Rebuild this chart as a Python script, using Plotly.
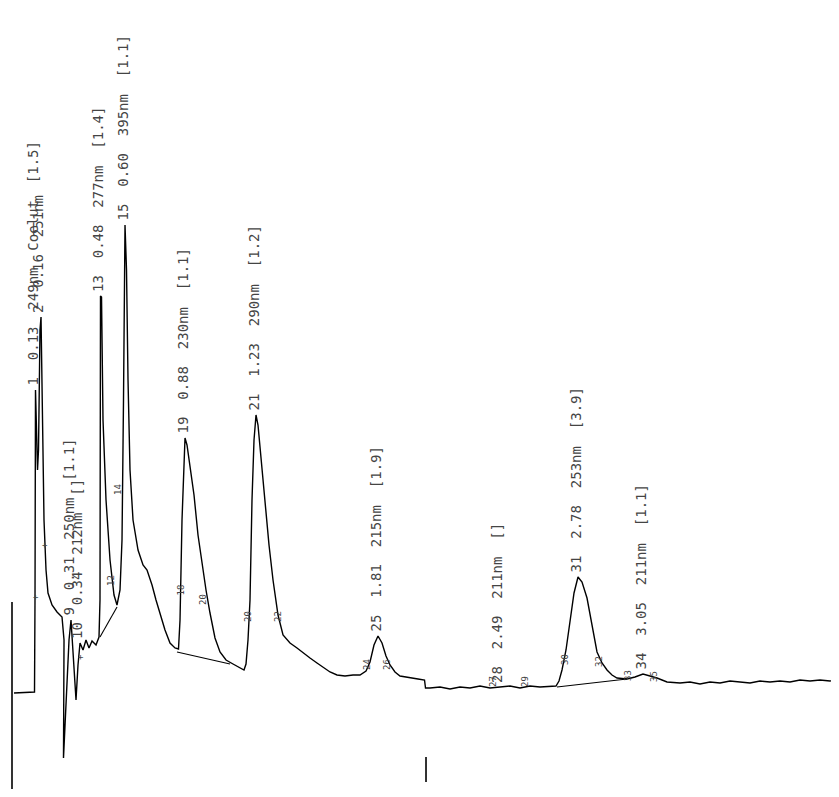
import plotly.graph_objects as go

# ---------------- data ----------------
time_min = [0.0603, 0.1591, 0.1615, 0.1639, 0.1688, 0.1736, 0.1784, 0.1856, 0.1905, 0.1953,
            0.2001, 0.2049, 0.2146, 0.2242, 0.2435, 0.2676, 0.2917, 0.3014, 0.2989, 0.3110,
            0.3255, 0.3351, 0.3447, 0.3592, 0.3688, 0.3785, 0.3930, 0.4074, 0.4219, 0.4364,
            0.4556, 0.4701, 0.4749, 0.4773, 0.4822, 0.4894, 0.5039, 0.5232, 0.5424, 0.5569,
            0.5714, 0.5810, 0.5882, 0.5955, 0.6027, 0.6100, 0.6196, 0.6341, 0.6582, 0.6823,
            0.7016, 0.7257, 0.7449, 0.7642, 0.7883, 0.8124, 0.8365, 0.8534, 0.8607, 0.8703,
            0.8799, 0.8848, 0.8944, 0.9089, 0.9282, 0.9474, 0.9667, 0.9860, 1.0053, 1.0294,
            1.0535, 1.0825, 1.1162, 1.1500, 1.1692, 1.1789, 1.1885, 1.1982, 1.2078, 1.2175,
            1.2271, 1.2367, 1.2512, 1.2705, 1.2898, 1.3091, 1.3332, 1.3573, 1.3910, 1.4248,
            1.4537, 1.4875, 1.5212, 1.5550, 1.5839, 1.6176, 1.6562, 1.6948, 1.7285, 1.7575,
            1.7768, 1.7960, 1.8153, 1.8346, 1.8539, 1.8732, 1.8973, 1.9214, 1.9696, 2.0082,
            2.0396, 2.0444, 2.0661, 2.1143, 2.1625, 2.2107, 2.2589, 2.3071, 2.3553, 2.4036,
            2.4518, 2.5000, 2.5482, 2.5964, 2.6446, 2.6735, 2.6880, 2.7025, 2.7218, 2.7411,
            2.7604, 2.7797, 2.7990, 2.8231, 2.8472, 2.8713, 2.8954, 2.9195, 2.9436, 2.9677,
            3.0159, 3.0545, 3.0931, 3.1268, 3.1606, 3.2088, 3.2715, 3.3197, 3.3679, 3.4161,
            3.4643, 3.5125, 3.5607, 3.6089, 3.6572, 3.7054, 3.7536, 3.8018, 3.8500, 3.8983,
            3.9465, 3.9947, 4.0381]

signal = [-8, -7, 85, 295, 255, 215, 235, 355, 368, 305,
          215, 165, 115, 92, 80, 73, 68, 45, -73, -15,
          45, 65, 35, -15, 20, 42, 35, 45, 37, 44,
          40, 48, 85, 389, 388, 265, 185, 125, 90, 80,
          95, 145, 285, 460, 415, 305, 215, 165, 135, 120,
          115, 100, 85, 72, 55, 42, 37, 36, 65, 165,
          235, 247, 240, 217, 190, 150, 120, 95, 72, 47,
          33, 25, 21, 17, 15, 21, 45, 85, 185, 245,
          270, 260, 225, 180, 140, 105, 70, 50, 42, 37,
          32, 27, 22, 17, 13, 10, 9, 10, 10, 14,
          23, 40, 49, 42, 29, 20, 13, 9, 7, 6,
          5, -3, -3, -2, -4, -2, -3, -1, -3, -2,
          -1, -3, -1, -2, -1, -1, 4, 15, 35, 65,
          92, 108, 103, 87, 60, 33, 22, 15, 10, 7,
          6, 8, 11, 9, 7, 3, 2, 3, 1, 3,
          2, 4, 3, 2, 4, 3, 4, 3, 5, 4,
          5, 4, 5]

# integrator baselines (start/end time, start/end signal)
baseline_t0 = [0.4749, 0.8462, 2.6783]
baseline_t1 = [0.5569, 1.1017, 3.0159]
baseline_s0 = [48, 33, -2]
baseline_s1 = [78, 21, 6]

# event marks (time, top, bottom)
event_t = [0.0506, 2.0468, 4.0188]
event_top = [83, -72, -86]
event_bottom = [-105, -97, -93]

# peak labels
peak_no = ["1", "2", "9", "10", "13", "15", "19", "21", "25", "28", "31", "34"]
peak_rt = ["0.13", "0.16", "0.31", "0.34", "0.48", "0.60", "0.88", "1.23", "1.81", "2.49", "2.78", "3.05"]
peak_nm = ["249nm", "251nm", "250nm", "212nm", "277nm", "395nm", "230nm", "290nm", "215nm", "211nm", "253nm", "211nm"]
peak_note = ["Coelut", "", "", "", "", "", "", "", "", "", "", ""]
peak_ratio = ["[1.5]", "", "[1.1]", "[]", "[1.4]", "[1.1]", "[1.1]", "[1.2]", "[1.9]", "[]", "[3.9]", "[1.1]"]
apex_time = [0.1639, 0.1905, 0.3351, 0.3785, 0.4773, 0.5955, 0.8848, 1.2271, 1.8153, 2.4036, 2.7797, 3.0931]
apex_signal = [295, 368, 65, 42, 389, 460, 247, 270, 49, -2, 108, 11]

# integrator tick marks
tick_time = [0.8631, 0.9715, 1.1885, 1.3332, 1.7623, 1.8587, 2.3698, 2.5241,
             2.7170, 2.8810, 3.0207, 3.1461, 0.5617, 0.5279, 0.1615, 0.2049, 0.3785]
tick_signal = [95, 85, 68, 68, 20, 20, 3, 3, 25, 23, 10, 8, 195, 105, 88, 140, 28]
tick_text = ["18", "20", "20", "22", "24", "26", "27", "29", "30", "32", "33", "35",
             "14", "12", "+", "+", "+"]

assert len(time_min) == len(signal)

# ---------------- figure ----------------
fig = go.Figure()
fig.add_trace(go.Scatter(x=time_min, y=signal, mode="lines",
                         line=dict(color="black", width=1.4), hoverinfo="skip"))
for t0, t1, s0, s1 in zip(baseline_t0, baseline_t1, baseline_s0, baseline_s1):
    fig.add_trace(go.Scatter(x=[t0, t1], y=[s0, s1], mode="lines",
                             line=dict(color="black", width=1.1), hoverinfo="skip"))
for t, a, b in zip(event_t, event_top, event_bottom):
    fig.add_trace(go.Scatter(x=[t, t], y=[a, b], mode="lines",
                             line=dict(color="black", width=1.6), hoverinfo="skip"))

SP = "\u00a0\u00a0"
annotations = []
for n, rt, nm, note, ratio, at, asig in zip(peak_no, peak_rt, peak_nm, peak_note,
                                             peak_ratio, apex_time, apex_signal):
    parts = [n, rt, nm] + ([note] if note else []) + ([ratio] if ratio else [])
    annotations.append(dict(x=at, y=asig, xref="x", yref="y", text=SP.join(parts),
                            textangle=-90, showarrow=False, xanchor="center",
                            yanchor="bottom", xshift=-3, yshift=2,
                            font=dict(family="DejaVu Sans Mono", size=14, color="#444")))
for t, s, txt in zip(tick_time, tick_signal, tick_text):
    annotations.append(dict(x=t, y=s, xref="x", yref="y", text=txt, textangle=-90,
                            showarrow=False, xanchor="center", yanchor="middle",
                            font=dict(family="DejaVu Sans Mono", size=9, color="#444")))

# the page body adds an 8 px offset; ranges compensate so marks land in place
fig.update_layout(
    width=831, height=781,
    margin=dict(l=0, r=0, t=0, b=0),
    paper_bgcolor="white", plot_bgcolor="white",
    showlegend=False,
    xaxis=dict(range=[0.0313, 4.0381], visible=False),
    yaxis=dict(range=[-104, 677], visible=False),
    annotations=annotations,
)

fig.write_html("out.html")
